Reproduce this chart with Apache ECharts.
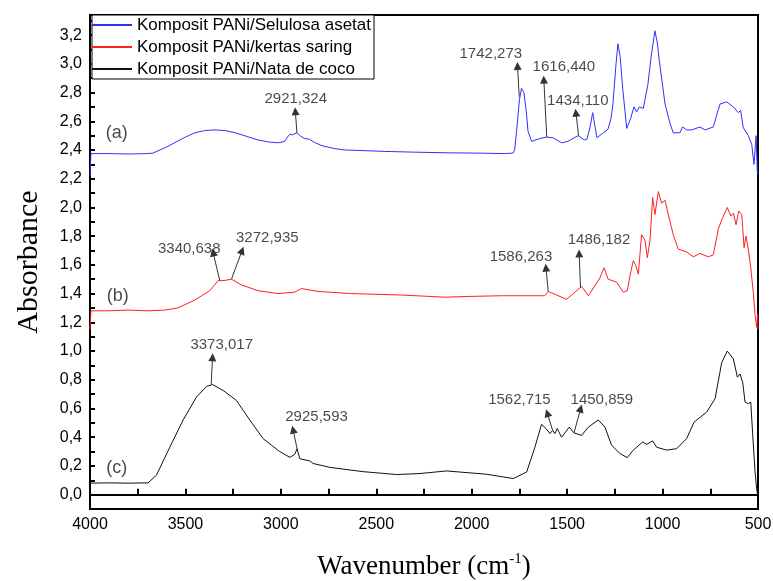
<!DOCTYPE html>
<html lang="en">
<head>
    <meta charset="UTF-8">
    <title>FTIR Komposit PANi</title>
    <style>
        html, body { margin: 0; padding: 0; background: #fff; }
    </style>
</head>
<body>
<div id="chart-wrap" style="width: 773px;height: 581px;"></div>
<script src="https://cdn.jsdelivr.net/npm/echarts@6/dist/echarts.min.js"></script>
<script>
    // spectra: [wavenumber, absorbance]
    var specA = [
        [4000, 2.22], [3995, 2.375], [3900, 2.375], [3800, 2.372], [3700, 2.375], [3671, 2.378],
        [3600, 2.42], [3500, 2.49], [3450, 2.52], [3400, 2.535], [3345, 2.54], [3290, 2.535],
        [3240, 2.52], [3180, 2.495], [3120, 2.47], [3060, 2.455], [3016, 2.45], [2980, 2.46],
        [2965, 2.49], [2953, 2.51], [2940, 2.505], [2916, 2.52], [2895, 2.495], [2875, 2.48],
        [2850, 2.475], [2820, 2.45], [2785, 2.43], [2720, 2.41], [2665, 2.40], [2550, 2.395],
        [2455, 2.39], [2300, 2.385], [2105, 2.38], [1950, 2.378], [1827, 2.375], [1784, 2.378],
        [1775, 2.40], [1765, 2.53], [1750, 2.75], [1739, 2.83], [1727, 2.80], [1715, 2.68],
        [1705, 2.53], [1686, 2.46], [1643, 2.48], [1607, 2.49], [1574, 2.485], [1529, 2.45],
        [1496, 2.46], [1443, 2.50], [1410, 2.47], [1396, 2.475], [1380, 2.56], [1366, 2.66],
        [1355, 2.57], [1344, 2.485], [1310, 2.52], [1286, 2.545], [1270, 2.62], [1260, 2.72],
        [1245, 2.98], [1234, 3.14], [1222, 3.05], [1209, 2.83], [1188, 2.55], [1167, 2.62],
        [1150, 2.70], [1136, 2.665], [1122, 2.70], [1101, 2.69], [1077, 2.855], [1060, 3.05],
        [1040, 3.23], [1028, 3.15], [1017, 3.02], [987, 2.72], [960, 2.58], [944, 2.52],
        [909, 2.52], [895, 2.56], [874, 2.54], [847, 2.54], [804, 2.56], [778, 2.54],
        [734, 2.56], [715, 2.65], [699, 2.72], [664, 2.735], [629, 2.70], [603, 2.66],
        [591, 2.675], [577, 2.555], [551, 2.50], [533, 2.44], [521, 2.30], [510, 2.50],
        [503, 2.23], [500, 2.25]
    ];
    var specB = [
        [4000, 1.15], [3995, 1.28], [3900, 1.28], [3800, 1.285], [3700, 1.28], [3609, 1.285],
        [3540, 1.30], [3451, 1.355], [3373, 1.42], [3329, 1.49], [3303, 1.49], [3259, 1.50],
        [3206, 1.46], [3119, 1.42], [3014, 1.40], [2927, 1.41], [2892, 1.435], [2805, 1.415],
        [2630, 1.40], [2368, 1.39], [2141, 1.375], [2018, 1.38], [1843, 1.385], [1700, 1.385],
        [1617, 1.385], [1599, 1.415], [1555, 1.39], [1503, 1.36], [1459, 1.41], [1424, 1.45],
        [1389, 1.385], [1354, 1.455], [1328, 1.51], [1307, 1.58], [1285, 1.50], [1241, 1.48],
        [1206, 1.41], [1185, 1.42], [1167, 1.55], [1153, 1.63], [1139, 1.59], [1127, 1.535],
        [1110, 1.81], [1092, 1.77], [1080, 1.65], [1066, 1.77], [1052, 2.07], [1040, 1.95],
        [1022, 2.11], [1005, 2.03], [987, 2.05], [970, 1.95], [944, 1.81], [918, 1.71],
        [874, 1.69], [839, 1.656], [804, 1.68], [760, 1.656], [734, 1.67], [708, 1.85],
        [685, 1.93], [661, 2.00], [643, 1.94], [629, 1.96], [615, 1.88], [601, 1.975],
        [585, 1.95], [573, 1.72], [563, 1.80], [551, 1.71], [538, 1.58], [524, 1.40],
        [516, 1.26], [507, 1.165], [502, 1.26], [500, 1.15]
    ];
    var specC = [
        [4000, 0.08], [3900, 0.082], [3800, 0.08], [3696, 0.082], [3652, 0.135], [3582, 0.33],
        [3512, 0.52], [3442, 0.68], [3390, 0.753], [3358, 0.767], [3303, 0.726], [3233, 0.656],
        [3163, 0.52], [3093, 0.39], [3006, 0.30], [2953, 0.26], [2927, 0.28], [2915, 0.32],
        [2901, 0.25], [2848, 0.235], [2831, 0.217], [2744, 0.19], [2569, 0.16], [2394, 0.14],
        [2271, 0.147], [2132, 0.165], [1922, 0.142], [1782, 0.112], [1712, 0.158], [1669, 0.33],
        [1634, 0.49], [1611, 0.46], [1590, 0.425], [1576, 0.448], [1564, 0.425], [1552, 0.46],
        [1529, 0.40], [1489, 0.47], [1464, 0.43], [1424, 0.413], [1389, 0.47], [1337, 0.52],
        [1302, 0.47], [1267, 0.344], [1223, 0.286], [1185, 0.258], [1154, 0.309], [1104, 0.367],
        [1083, 0.35], [1052, 0.374], [1031, 0.33], [978, 0.31], [926, 0.32], [874, 0.39],
        [835, 0.505], [769, 0.575], [725, 0.668], [690, 0.92], [661, 1.00], [629, 0.945],
        [608, 0.818], [594, 0.84], [580, 0.78], [568, 0.645], [551, 0.633], [538, 0.645],
        [528, 0.425], [516, 0.17], [507, 0.04], [502, 0.0], [500, 0.05]
    ];

    var seriesNames = ['Komposit PANi/Selulosa asetat', 'Komposit PANi/kertas saring', 'Komposit PANi/Nata de coco'];
    var seriesColors = ['#2f2fff', '#ff2020', '#111111'];

    // peak notes: label, point on curve, arrow tip, label centre
    var peaksA = [
        ['2921,324', [2916, 2.52], [2924, 2.67], [2922, 2.755]],
        ['1742,273', [1751, 2.77], [1760, 2.985], [1900, 3.066]],
        ['1616,440', [1607, 2.49], [1622, 2.89], [1517, 2.976]],
        ['1434,110', [1440, 2.50], [1454, 2.66], [1444, 2.744]]
    ];
    var peaksB = [
        ['3340,638', [3320, 1.49], [3355, 1.686], [3480, 1.714]],
        ['3272,935', [3259, 1.50], [3203, 1.70], [3071, 1.79]],
        ['1586,263', [1599, 1.415], [1611, 1.58], [1742, 1.656]],
        ['1486,182', [1430, 1.44], [1437, 1.68], [1333, 1.772]]
    ];
    var peaksC = [
        ['3373,017', [3365, 0.767], [3358, 0.957], [3310, 1.04]],
        ['2925,593', [2915, 0.32], [2936, 0.453], [2813, 0.54]],
        ['1562,715', [1576, 0.448], [1604, 0.568], [1750, 0.663]],
        ['1450,859', [1464, 0.43], [1429, 0.60], [1318, 0.663]]
    ];
    var caseLabels = [['(a)', 3860, 2.52], ['(b)', 3855, 1.38], ['(c)', 3860, 0.184]];

    var sans = 'Arial, "Liberation Sans", sans-serif';
    var serif = '"Times New Roman", "Liberation Serif", serif';

    function arrows(peaks) {
        return peaks.map(function (p) {
            return [{coord: p[1]}, {coord: p[2]}];
        });
    }

    var noteData = [];
    [peaksA, peaksB, peaksC].forEach(function (list) {
        list.forEach(function (p) {
            noteData.push([p[3][0], p[3][1], p[0]]);
        });
    });

    var specs = [specA, specB, specC];
    var peaks = [peaksA, peaksB, peaksC];
    var series = specs.map(function (d, i) {
        return {
            name: seriesNames[i],
            type: 'line',
            data: d,
            showSymbol: false,
            symbol: 'none',
            lineStyle: {color: seriesColors[i], width: 1},
            itemStyle: {color: seriesColors[i]},
            animation: false,
            markLine: {
                silent: true,
                animation: false,
                symbol: ['none', 'triangle'],
                symbolSize: 8,
                itemStyle: {color: '#111'},
                lineStyle: {color: '#333', width: 1, type: 'solid'},
                label: {show: false},
                data: arrows(peaks[i])
            }
        };
    });

    series.push({
        name: 'notes',
        type: 'scatter',
        data: noteData,
        symbolSize: 1,
        itemStyle: {color: 'rgba(0,0,0,0)'},
        silent: true,
        animation: false,
        label: {
            show: true,
            position: 'inside',
            formatter: function (p) { return p.data[2]; },
            color: '#1a1a1a',
            fontFamily: sans,
            fontSize: 15
        }
    });
    series.push({
        name: 'cases',
        type: 'scatter',
        data: caseLabels.map(function (c) { return [c[1], c[2], c[0]]; }),
        symbolSize: 1,
        itemStyle: {color: 'rgba(0,0,0,0)'},
        silent: true,
        animation: false,
        label: {
            show: true,
            position: 'inside',
            formatter: function (p) { return p.data[2]; },
            color: '#1a1a1a',
            fontFamily: sans,
            fontSize: 18
        }
    });

    var chart = echarts.init(document.getElementById('chart-wrap'));
    var option = {
        backgroundColor: '#fff',
        animation: false,
        grid: {
            left: 90, right: 15, top: 15, bottom: 72,
            outerBoundsMode: 'none',
            containLabel: false,
            show: true, borderColor: '#000', borderWidth: 2
        },
        legend: {
            data: seriesNames,
            orient: 'vertical',
            left: 92,
            top: 15,
            padding: [0, 3, 0, 0],
            itemGap: 2,
            itemWidth: 40,
            itemHeight: 2,
            itemTextGap: 5,
            icon: 'rect',
            borderColor: '#000',
            borderWidth: 1,
            backgroundColor: '#fff',
            textStyle: {fontFamily: sans, fontSize: 17, color: '#000', lineHeight: 20}
        },
        xAxis: {
            type: 'value',
            inverse: true,
            min: 500,
            max: 4000,
            interval: 250,
            name: 'Wavenumber (cm{sup|-1})',
            nameLocation: 'middle',
            nameGap: 43,
            nameTextStyle: {
                fontFamily: serif, fontSize: 27, color: '#000',
                rich: {sup: {fontFamily: serif, fontSize: 15, color: '#000', padding: [0, 0, 14, 0]}}
            },
            axisLine: {show: true, lineStyle: {color: '#000', width: 2}},
            axisTick: {show: true, inside: true, length: 6, lineStyle: {color: '#000', width: 2}},
            axisLabel: {
                margin: 8,
                fontFamily: sans, fontSize: 16, color: '#000',
                formatter: function (v) { return v % 500 === 0 ? String(v) : ''; }
            },
            splitLine: {show: false}
        },
        yAxis: {
            type: 'value',
            min: -0.1,
            max: 3.34,
            interval: 0.1,
            name: 'Absorbance',
            nameLocation: 'middle',
            nameRotate: 90,
            nameGap: 46,
            nameTextStyle: {fontFamily: serif, fontSize: 30, color: '#000'},
            axisLine: {show: true, lineStyle: {color: '#000', width: 2}},
            axisTick: {show: true, inside: true, length: 5, lineStyle: {color: '#000', width: 2}},
            axisLabel: {
                margin: 8,
                fontFamily: sans, fontSize: 16, color: '#000',
                formatter: function (v) {
                    var t = Math.round(v * 10);
                    if (t < 0 || t % 2 !== 0) return '';
                    return (t / 10).toFixed(1).replace('.', ',');
                }
            },
            splitLine: {show: false}
        },
        series: series
    };
    chart.setOption(option);
</script>
</body>
</html>
